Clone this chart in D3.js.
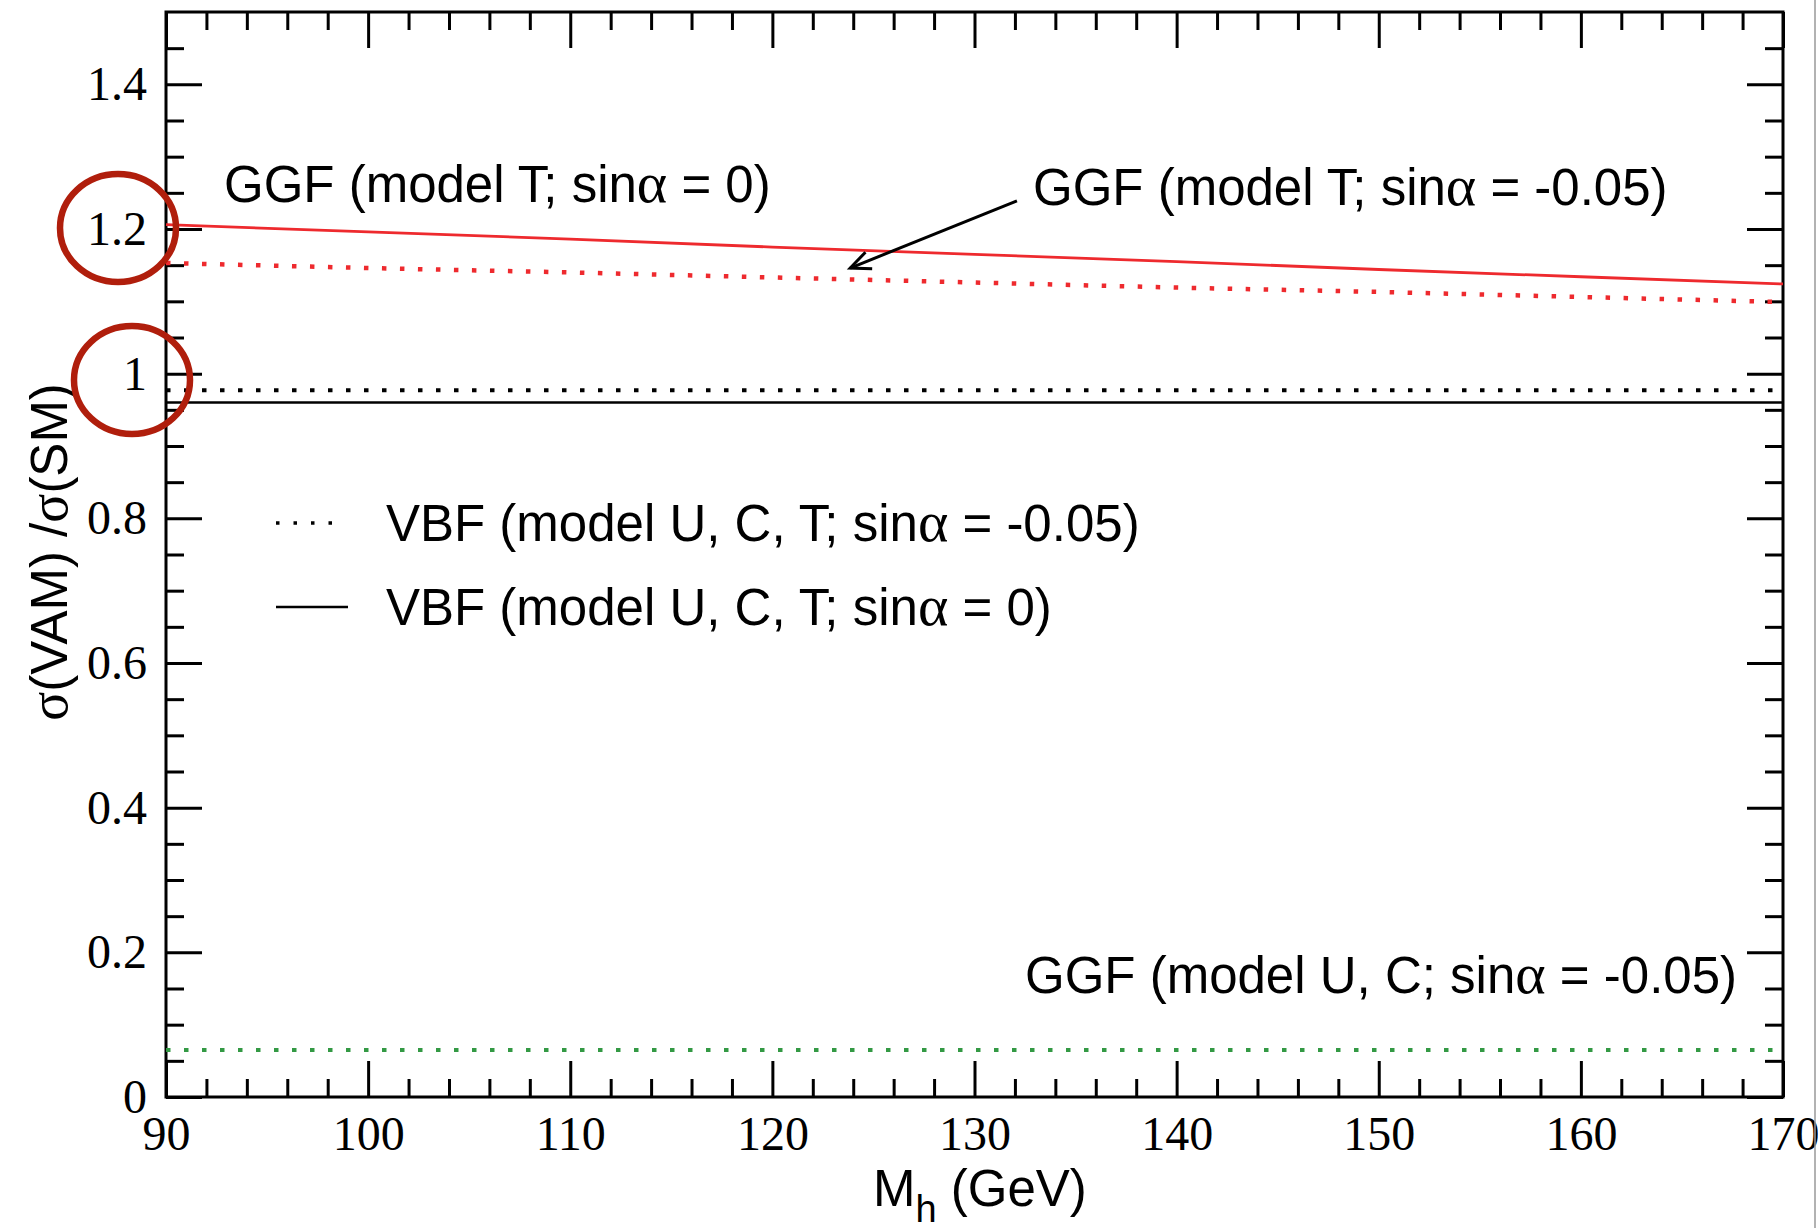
<!DOCTYPE html>
<html>
<head>
<meta charset="utf-8">
<script src="https://cdn.jsdelivr.net/npm/d3@7"></script>
<style>
  body { margin: 0; background: #fff; }
  .tick text { font-family: "Liberation Serif", "Times New Roman", serif; font-size: 48px; fill: #000; }
  .tick line { stroke: #000; stroke-width: 3; }
  .lbl { font-family: "Liberation Sans", Arial, Helvetica, sans-serif; font-size: 51px; fill: #000; }
  .gr { font-family: "Liberation Serif", "Times New Roman", serif; font-size: 58px; }
</style>
</head>
<body>
<div id="chart"></div>
<script>
// Higgs mass points (GeV)
var massPts = [90, 100, 110, 120, 130, 140, 150, 160, 170];

// ratio sigma(VAM)/sigma(SM)
var ggfT0      = [1.206, 1.196, 1.186, 1.175, 1.165, 1.155, 1.144, 1.134, 1.124];
var ggfT005    = [1.153, 1.146, 1.140, 1.133, 1.126, 1.119, 1.113, 1.106, 1.099];
var vbf005     = [0.977, 0.977, 0.977, 0.977, 0.977, 0.977, 0.977, 0.977, 0.977];
var vbf0       = [0.960, 0.960, 0.960, 0.960, 0.960, 0.960, 0.960, 0.960, 0.960];
var ggfUC005   = [0.065, 0.065, 0.065, 0.065, 0.065, 0.065, 0.065, 0.065, 0.065];

var xTicks = [90, 100, 110, 120, 130, 140, 150, 160, 170];
var yTicks = [0, 0.2, 0.4, 0.6, 0.8, 1, 1.2, 1.4];

var W = 1818, H = 1228;
// plot box (don't call it "top", window.top is read-only)
var box = {left: 166, right: 1783, top: 12, bottom: 1097};

var svg = d3.select("#chart").append("svg")
    .attr("width", W)
    .attr("height", H);

svg.append("rect").attr("width", W).attr("height", H).attr("fill", "#fff");

var x = d3.scaleLinear().domain([90, 170]).range([box.left, box.right]);
var y = d3.scaleLinear().domain([0, 1.5]).range([box.bottom, box.top]);

var xMinor = d3.range(92, 170, 2).filter(function (d) { return d % 10 !== 0; });
var yMinor = d3.range(1, 30).map(function (i) { return i * 0.05; })
    .filter(function (d) { return Math.abs(d / 0.2 - Math.round(d / 0.2)) > 1e-6; });

var fmtY = function (d) { return String(+d.toFixed(1)); };

// major ticks with labels (bottom, left)
svg.append("g")
    .attr("transform", "translate(0," + box.bottom + ")")
    .call(d3.axisBottom(x).tickValues(xTicks).tickSizeInner(-36).tickSizeOuter(0).tickPadding(19).tickFormat(d3.format("d")));
svg.append("g")
    .attr("transform", "translate(" + box.left + ",0)")
    .call(d3.axisLeft(y).tickValues(yTicks).tickSizeInner(-36).tickSizeOuter(0).tickPadding(19).tickFormat(fmtY));

// mirrored ticks (top, right), no labels
svg.append("g")
    .attr("transform", "translate(0," + box.top + ")")
    .call(d3.axisTop(x).tickValues(xTicks).tickSizeInner(-36).tickSizeOuter(0).tickFormat(""));
svg.append("g")
    .attr("transform", "translate(" + box.right + ",0)")
    .call(d3.axisRight(y).tickValues(yTicks).tickSizeInner(-36).tickSizeOuter(0).tickFormat(""));

// minor ticks
svg.append("g").attr("transform", "translate(0," + box.bottom + ")")
    .call(d3.axisBottom(x).tickValues(xMinor).tickSizeInner(-18).tickSizeOuter(0).tickFormat(""));
svg.append("g").attr("transform", "translate(0," + box.top + ")")
    .call(d3.axisTop(x).tickValues(xMinor).tickSizeInner(-18).tickSizeOuter(0).tickFormat(""));
svg.append("g").attr("transform", "translate(" + box.left + ",0)")
    .call(d3.axisLeft(y).tickValues(yMinor).tickSizeInner(-18).tickSizeOuter(0).tickFormat(""));
svg.append("g").attr("transform", "translate(" + box.right + ",0)")
    .call(d3.axisRight(y).tickValues(yMinor).tickSizeInner(-18).tickSizeOuter(0).tickFormat(""));

svg.selectAll(".domain").remove();

// frame
svg.append("rect")
    .attr("x", box.left).attr("y", box.top)
    .attr("width", box.right - box.left).attr("height", box.bottom - box.top)
    .attr("fill", "none").attr("stroke", "#000").attr("stroke-width", 3);

var line = d3.line()
    .x(function (d) { return x(d[0]); })
    .y(function (d) { return y(d[1]); });

function drawSeries(vals, color, dotted, width) {
    svg.append("path")
        .datum(d3.zip(massPts, vals))
        .attr("d", line)
        .attr("fill", "none")
        .attr("stroke", color)
        .attr("stroke-width", width)
        .attr("stroke-dasharray", dotted ? "4.5,13.5" : null);
}

drawSeries(ggfT0, "#ee2a2e", false, 2.8);
drawSeries(ggfT005, "#ee2a2e", true, 4.5);
drawSeries(vbf005, "#000", true, 4);
drawSeries(vbf0, "#000", false, 2.5);
drawSeries(ggfUC005, "#339944", true, 4);

// text labels with greek in serif
function label(px, py, parts) {
    var t = svg.append("text").attr("class", "lbl").attr("x", px).attr("y", py);
    parts.forEach(function (p) {
        var s = t.append("tspan").text(p[0]);
        if (p[1]) s.attr("class", "gr");
    });
    return t;
}

label(224, 202, [["GGF (model T; sin"], ["\u03b1", 1], [" = 0)"]]);
label(1033, 205, [["GGF (model T; sin"], ["\u03b1", 1], [" = -0.05)"]]);
label(1025, 993, [["GGF (model U, C; sin"], ["\u03b1", 1], [" = -0.05)"]]);

// legend
label(386, 541, [["VBF (model U, C, T; sin"], ["\u03b1", 1], [" = -0.05)"]]);
label(386, 625, [["VBF (model U, C, T; sin"], ["\u03b1", 1], [" = 0)"]]);
svg.append("line").attr("x1", 276).attr("x2", 338).attr("y1", 523).attr("y2", 523)
    .attr("stroke", "#000").attr("stroke-width", 3.5).attr("stroke-dasharray", "3.5,14");
svg.append("line").attr("x1", 276).attr("x2", 348).attr("y1", 607).attr("y2", 607)
    .attr("stroke", "#000").attr("stroke-width", 2.5);

// arrow pointing to the red dotted curve
var arrowFrom = [132.1, 1.239], arrowTo = [123.85, 1.146];
var ax0 = x(arrowFrom[0]), ay0 = y(arrowFrom[1]), ax1 = x(arrowTo[0]), ay1 = y(arrowTo[1]);
var ang = Math.atan2(ay0 - ay1, ax0 - ax1), hl = 22, ha = 0.42;
svg.append("line").attr("x1", ax0).attr("y1", ay0).attr("x2", ax1).attr("y2", ay1)
    .attr("stroke", "#000").attr("stroke-width", 3);
svg.append("path")
    .attr("d", "M" + (ax1 + hl * Math.cos(ang + ha)) + "," + (ay1 + hl * Math.sin(ang + ha)) +
        "L" + ax1 + "," + ay1 +
        "L" + (ax1 + hl * Math.cos(ang - ha)) + "," + (ay1 + hl * Math.sin(ang - ha)))
    .attr("fill", "none").attr("stroke", "#000").attr("stroke-width", 3);

// axis titles
var xt = svg.append("text").attr("class", "lbl").attr("x", 873).attr("y", 1206);
xt.append("tspan").text("M");
xt.append("tspan").attr("dy", 16).style("font-size", "38px").text("h");
xt.append("tspan").attr("dy", -16).text(" (GeV)");

var yt = svg.append("text").attr("class", "lbl")
    .attr("text-anchor", "middle")
    .attr("transform", "translate(67,552) rotate(-90)");
yt.append("tspan").attr("class", "gr").style("font-size", "54px").text("\u03c3");
yt.append("tspan").text("(VAM) /");
yt.append("tspan").attr("class", "gr").style("font-size", "54px").text("\u03c3");
yt.append("tspan").text("(SM)");

// hand-drawn circles around the 1.2 and 1 tick labels
var circles = [{cx: 118, cy: 228, rx: 58, ry: 54}, {cx: 132, cy: 380, rx: 58, ry: 54}];
svg.selectAll(".ring").data(circles).enter().append("ellipse")
    .attr("class", "ring")
    .attr("cx", function (d) { return d.cx; })
    .attr("cy", function (d) { return d.cy; })
    .attr("rx", function (d) { return d.rx; })
    .attr("ry", function (d) { return d.ry; })
    .attr("fill", "none").attr("stroke", "#b01e0c").attr("stroke-width", 6.5);

// page edge line at right
svg.append("line").attr("x1", 1815).attr("x2", 1815).attr("y1", 0).attr("y2", H)
    .attr("stroke", "#999").attr("stroke-width", 1.5);
</script>
</body>
</html>
